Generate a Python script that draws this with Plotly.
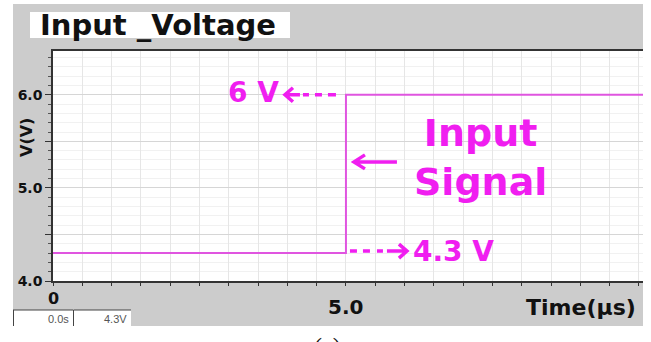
import plotly.graph_objects as go

# ---- data ----
time_us = [0.0, 5.0, 10.1]
voltage = [4.3, 6.0, 6.0]
step_time = 5.0
low_level = 4.3
high_level = 6.0
y_tickvals = [4.0, 4.5, 5.0, 5.5, 6.0]
y_ticktext = ["4.0", "", "5.0", "", "6.0"]
x_ticklabels = {"0": 0.0, "5.0": 5.0}
title_text = "Input _Voltage"
cursor_time = "0.0s"
cursor_value = "4.3V"

W, H = 651, 342
L, R, T, B = 53, 8, 51, 61
PW, PH = W - L - R, H - T - B


def px(xp):
    return (xp - L) / PW


def py(yp):
    return (H - B - yp) / PH


MAG = "#f01ef0"
LINE = "#e055e0"
FONT = "DejaVu Sans"

fig = go.Figure()
fig.add_trace(go.Scatter(x=time_us, y=voltage, mode="lines", line_shape="hv",
                         line=dict(color=LINE, width=2), hoverinfo="skip"))

shapes = [
    # grey frame
    dict(type="rect", xref="paper", yref="paper", x0=px(13), x1=px(643), y0=py(326), y1=py(4),
         fillcolor="#cccccc", line=dict(width=0), layer="below"),
    dict(type="rect", xref="paper", yref="paper", x0=0, x1=1, y0=0, y1=1,
         fillcolor="white", line=dict(width=0), layer="below"),
    # title box
    dict(type="rect", xref="paper", yref="paper", x0=px(30), x1=px(290), y0=py(38), y1=py(12),
         fillcolor="white", line=dict(width=0), layer="below"),
    # cursor readout boxes
    dict(type="rect", xref="paper", yref="paper", x0=px(13), x1=px(73), y0=py(326), y1=py(310),
         fillcolor="white", line=dict(width=0), layer="below"),
    dict(type="rect", xref="paper", yref="paper", x0=px(73.5), x1=px(131), y0=py(326), y1=py(310),
         fillcolor="white", line=dict(width=0), layer="below"),
    dict(type="line", xref="paper", yref="paper", x0=px(13), x1=px(73), y0=py(310), y1=py(310),
         line=dict(color="#444", width=1)),
    dict(type="line", xref="paper", yref="paper", x0=px(13.5), x1=px(13.5), y0=py(326), y1=py(310),
         line=dict(color="#444", width=1)),
    dict(type="line", xref="paper", yref="paper", x0=px(73.5), x1=px(131), y0=py(310), y1=py(310),
         line=dict(color="#444", width=1)),
    dict(type="line", xref="paper", yref="paper", x0=px(73.5), x1=px(73.5), y0=py(326), y1=py(310),
         line=dict(color="#444", width=1)),
    # "6 V <---" arrow, anchored at the step's top corner
    dict(type="path", xref="x", yref="y", xsizemode="pixel", ysizemode="pixel",
         xanchor=step_time, yanchor=high_level,
         path="M -53,7 L -61,0 L -53,-7 M -61,0 L -46,0 M -43,0 L -37,0 M -31,0 L -24,0 M -18,0 L -10,0",
         line=dict(color=MAG, width=3.5)),
    # "---> 4.3 V" arrow, anchored at the step's bottom corner
    dict(type="path", xref="x", yref="y", xsizemode="pixel", ysizemode="pixel",
         xanchor=step_time, yanchor=low_level,
         path="M 4,2 L 11,2 M 17,2 L 24,2 M 31,2 L 37,2 M 41,2 L 61,2 M 53,9 L 61,2 L 53,-5",
         line=dict(color=MAG, width=3.5)),
    # arrow pointing at the step edge
    dict(type="path", xref="x", yref="y", xsizemode="pixel", ysizemode="pixel",
         xanchor=step_time, yanchor=5.0,
         path="M 8,26 L 51,26 M 19,33 L 8,26 L 19,19",
         line=dict(color=MAG, width=3.5)),
]

annotations = [
    dict(text="<b>" + title_text + "</b>", xref="paper", yref="paper", x=px(38), y=py(25),
         xanchor="left", yanchor="middle", showarrow=False,
         font=dict(family=FONT, size=29, color="#111")),
    dict(text="<b>V(V)</b>", xref="paper", yref="paper", x=px(26), y=py(138), textangle=-90,
         xanchor="center", yanchor="middle", showarrow=False,
         font=dict(family=FONT, size=16, color="#111")),
    dict(text="<b>Time(µs)</b>", xref="paper", yref="paper", x=px(638), y=py(307),
         xanchor="right", yanchor="middle", showarrow=False,
         font=dict(family=FONT, size=22, color="#111")),
    dict(text=cursor_time, xref="paper", yref="paper", x=px(71), y=py(318.5),
         xanchor="right", yanchor="middle", showarrow=False,
         font=dict(family="Liberation Sans", size=11, color="#555")),
    dict(text=cursor_value, xref="paper", yref="paper", x=px(129), y=py(318.5),
         xanchor="right", yanchor="middle", showarrow=False,
         font=dict(family="Liberation Sans", size=11, color="#555")),
    dict(text="(a)", xref="paper", yref="paper", x=px(327), y=py(331),
         xanchor="center", yanchor="top", showarrow=False,
         font=dict(family="Liberation Serif", size=24, color="#111")),
    # signal labels
    dict(text="<b>6 V</b>", x=step_time, y=high_level, xanchor="right", yanchor="middle",
         xshift=-65, yshift=2, showarrow=False, font=dict(family=FONT, size=28, color=MAG)),
    dict(text="<b>4.3 V</b>", x=step_time, y=low_level, xanchor="left", yanchor="middle",
         xshift=65, yshift=2, showarrow=False, font=dict(family=FONT, size=28, color=MAG)),
    dict(text="<b>Input<br>Signal</b>", xref="paper", yref="paper", x=px(480), y=py(157),
         xanchor="center", yanchor="middle", showarrow=False, align="center",
         font=dict(family=FONT, size=38, color=MAG)),
]
for lab, xv in x_ticklabels.items():
    annotations.append(dict(text="<b>" + lab + "</b>", x=xv, y=4.0, yref="y",
                            xanchor="center", yanchor="top", showarrow=False,
                            yshift=-6 if xv == 0 else -12,
                            font=dict(family=FONT, size=16 if xv == 0 else 20, color="#111")))

fig.update_layout(
    width=W, height=H, margin=dict(l=L, r=R, t=T, b=B),
    paper_bgcolor="white", plot_bgcolor="white", showlegend=False,
    shapes=shapes, annotations=annotations,
    xaxis=dict(range=[0, 10.07], tick0=0, dtick=0.5, showticklabels=False,
               ticks="outside", ticklen=3, tickcolor="#333",
               showgrid=True, gridcolor="#e6e6e6", gridwidth=1, zeroline=False,
               showline=True, linecolor="#333", linewidth=1.5, mirror=True, fixedrange=True),
    yaxis=dict(range=[4.0, 6.47], tickmode="array", tickvals=y_tickvals,
               ticktext=["<b>" + t + "</b>" if t else "" for t in y_ticktext],
               ticks="outside", ticklen=6, tickcolor="#333",
               tickfont=dict(family=FONT, size=14, color="#111"),
               showgrid=True, gridcolor="#d6d6d6", gridwidth=1, zeroline=False,
               showline=True, linecolor="#333", linewidth=1.5,
               minor=dict(dtick=0.1, tick0=4.0, ticks="outside", ticklen=3, tickcolor="#555",
                          showgrid=True, gridcolor="#f1f1f1"),
               fixedrange=True),
)

fig.write_html("out.html", config={"displayModeBar": False},
               post_script="document.body.style.margin='0';document.body.style.overflow='hidden';")
